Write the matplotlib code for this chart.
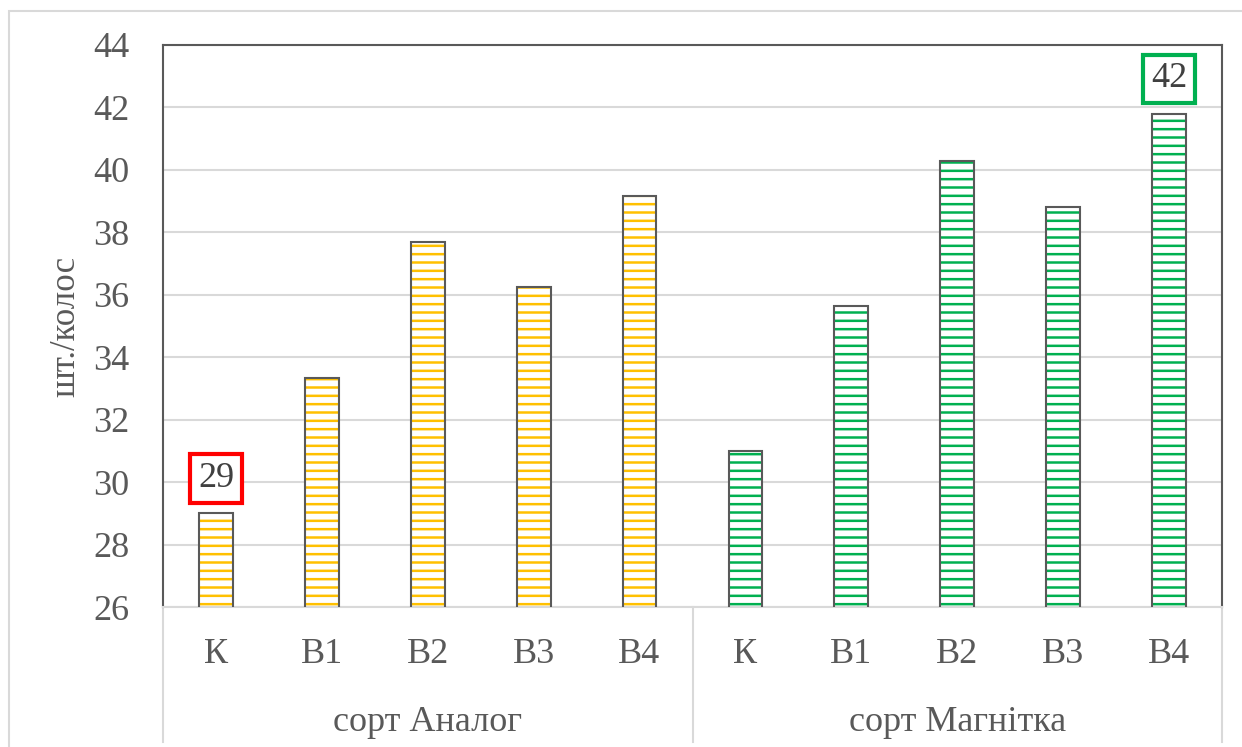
import matplotlib.pyplot as plt
from matplotlib.patches import Rectangle
from matplotlib.lines import Line2D

# spikelets per ear by variety and variant
groups = ['сорт Аналог', 'сорт Магнітка']
variants = ['К', 'В1', 'В2', 'В3', 'В4']
analog = [29.0, 33.35, 37.7, 36.25, 39.15]
magnitka = [31.0, 35.65, 40.3, 38.8, 41.8]
group_colors = ['#FFC000', '#00B050']

plt.rcParams['font.family'] = ['Liberation Serif', 'DejaVu Serif']
plt.rcParams['hatch.linewidth'] = 1.8
text_color = '#595959'

fig = plt.figure(figsize=(12.42, 7.47), dpi=100)
ax = fig.add_axes([163 / 1242, 1 - 607 / 747, (1222 - 163) / 1242, (607 - 45) / 747])

# outer chart border
fig.add_artist(Rectangle((9 / 1242, -0.01), 1.02, 1 - 11 / 747 + 0.01,
                         transform=fig.transFigure, fill=False,
                         edgecolor='#D9D9D9', linewidth=1.5))

values = analog + magnitka
colors = [group_colors[0]] * len(analog) + [group_colors[1]] * len(magnitka)
labels = variants + variants
x = list(range(len(values)))
width = 0.32

# striped fill, then the dark outline on top
ax.bar(x, values, width, bottom=0, color='white', edgecolor=colors,
       hatch='--', linewidth=0, zorder=2)
ax.bar(x, values, width, fill=False, edgecolor='#595959', linewidth=1.5, zorder=3)

ax.set_ylim(26, 44)
ax.set_xlim(-0.5, len(values) - 0.5)
ax.set_yticks(range(26, 45, 2))
ax.tick_params(axis='y', length=0, pad=24, labelsize=26, labelcolor=text_color)
ax.yaxis.grid(True, color='#D9D9D9', linewidth=1.5, zorder=0)
ax.set_axisbelow(True)
ax.set_ylabel('шт./колос', fontsize=25, color=text_color, labelpad=8)

ax.set_xticks(x)
ax.set_xticklabels(labels)
ax.tick_params(axis='x', length=0, pad=22, labelsize=26, labelcolor=text_color)

for side in ['left', 'top', 'right']:
    ax.spines[side].set_color('#595959')
    ax.spines[side].set_linewidth(1.5)
ax.spines['bottom'].set_color('#D9D9D9')
ax.spines['bottom'].set_linewidth(1.5)

# group labels and separators below the axis
n = len(variants)
seps = [0, n, 2 * n]
for s in seps:
    xs = s / (2 * n)
    ax.add_line(Line2D([xs, xs], [0, -0.24], transform=ax.transAxes,
                       color='#D9D9D9', linewidth=1.5, clip_on=False))
for i, g in enumerate(groups):
    ax.text((i + 0.5) / 2, -0.205, g, transform=ax.transAxes, ha='center',
            va='center', fontsize=26, color=text_color)

# boxed values for the min and max bars
marks = [(0, analog[0], '#FF0000'), (len(analog) + 4, magnitka[4], '#00B050')]
for xi, v, c in marks:
    ax.annotate(f'{v:.0f}', (xi, v), xytext=(0, 25), textcoords='offset points',
                ha='center', va='center', fontsize=26, color='#404040',
                bbox=dict(boxstyle='square,pad=0.22', facecolor='white',
                          edgecolor=c, linewidth=3), zorder=5)

fig.savefig('out.png', dpi=100)
